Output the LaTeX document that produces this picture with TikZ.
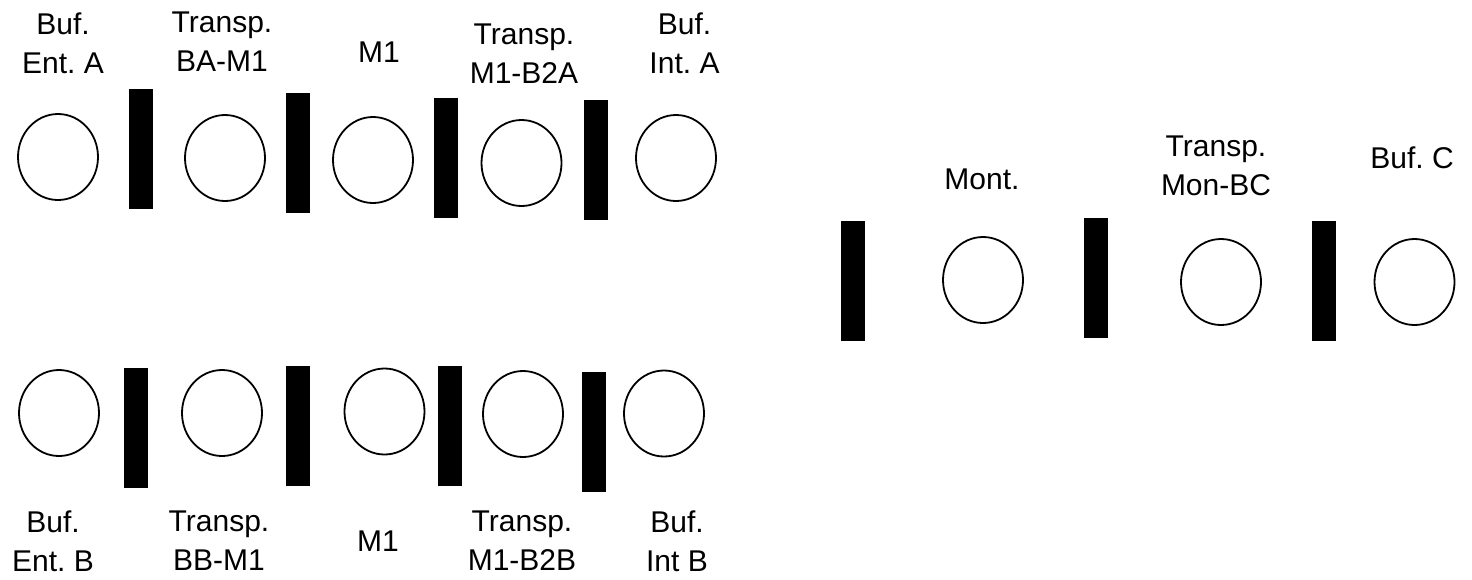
\documentclass[tikz,border=0pt]{standalone}
\usepackage{fontspec}
\setmainfont{Liberation Sans}
\usetikzlibrary{shapes.geometric}
\begin{document}
\begin{tikzpicture}[x=1pt,y=-1pt,
  station/.style={draw=black,line width=1.8pt,ellipse,minimum width=80pt,minimum height=86pt,inner sep=0pt},
  bar/.style={fill=black,draw=none,rectangle,minimum width=24pt,minimum height=120pt,inner sep=0pt},
  lbl/.style={align=center,inner sep=0pt,anchor=north,font=\fontsize{30}{38.5}\selectfont\frenchspacing}]
\useasboundingbox (0,0) rectangle (1472,579);
% top row
\node[station] (ta1) at (58,157) {};
\node[bar] (tb1) at (141,149) {};
\node[station] (ta2) at (225,158) {};
\node[bar] (tb2) at (297.5,153) {};
\node[station] (ta3) at (373,160) {};
\node[bar] (tb3) at (445.5,158) {};
\node[station] (ta4) at (521.5,163) {};
\node[bar] (tb4) at (596,159.5) {};
\node[station] (ta5) at (676,158) {};
\node[lbl] (tl1) at (63,13) {Buf.\\Ent. A};
\node[lbl] (tl2) at (222,12) {Transp.\\BA-M1};
\node[lbl] (tl3) at (379,42) {M1};
\node[lbl] (tl4) at (524,24) {Transp.\\M1-B2A};
\node[lbl] (tl5) at (684.5,13) {Buf.\\Int. A};
% bottom row
\node[station] (ba1) at (59,413) {};
\node[bar] (bb1) at (135.5,428) {};
\node[station] (ba2) at (222,413) {};
\node[bar] (bb2) at (297.5,426) {};
\node[station] (ba3) at (384.5,411.5) {};
\node[bar] (bb3) at (449.5,426) {};
\node[station] (ba4) at (523,414) {};
\node[bar] (bb4) at (593.5,432) {};
\node[station] (ba5) at (664,413.5) {};
\node[lbl] (bl1) at (53,511) {Buf.\\Ent. B};
\node[lbl] (bl2) at (219,511) {Transp.\\BB-M1};
\node[lbl] (bl3) at (378,531) {M1};
\node[lbl] (bl4) at (522,511) {Transp.\\M1-B2B};
\node[lbl] (bl5) at (677,511) {Buf.\\Int B};
% right group
\node[bar] (rb1) at (852.5,281) {};
\node[station] (ra1) at (983,280) {};
\node[bar] (rb2) at (1095.5,278) {};
\node[station] (ra2) at (1221,282) {};
\node[bar] (rb3) at (1323.5,281) {};
\node[station] (ra3) at (1414.5,282) {};
\node[lbl] (rl1) at (982,169) {Mont.};
\node[lbl] (rl2) at (1216,136) {Transp.\\Mon-BC};
\node[lbl] (rl3) at (1412,147) {Buf. C};
\end{tikzpicture}
\end{document}
